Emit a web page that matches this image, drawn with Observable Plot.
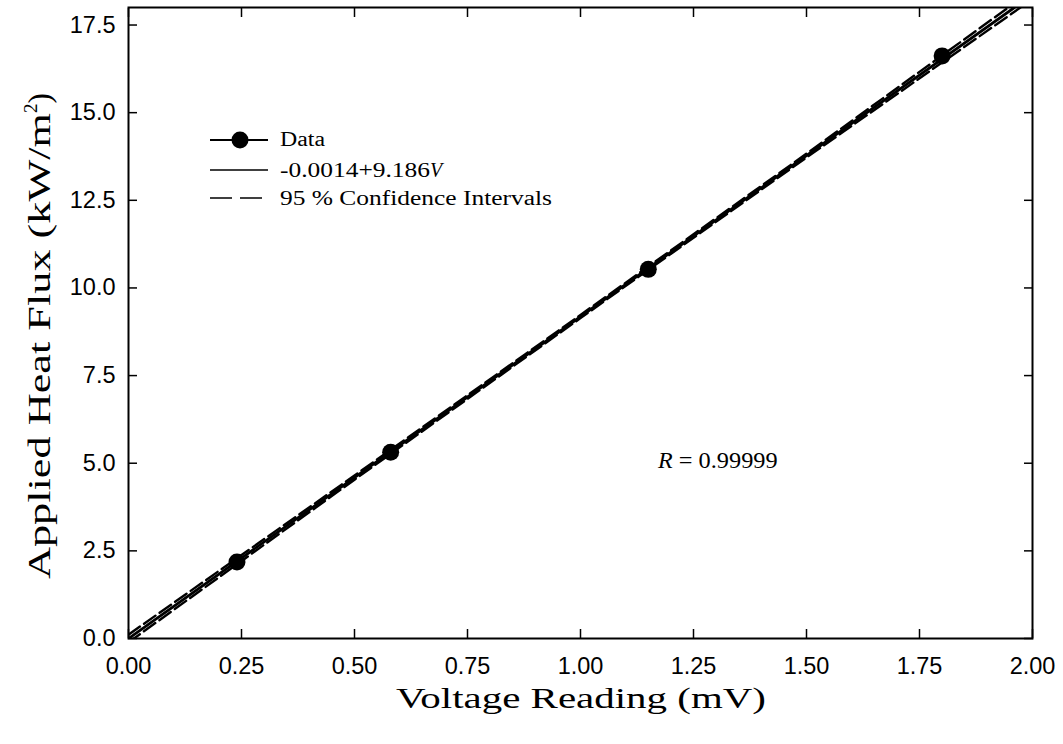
<!DOCTYPE html>
<html><head><meta charset="utf-8">
<script src="https://cdn.jsdelivr.net/npm/d3@7"></script>
<script src="https://cdn.jsdelivr.net/npm/@observablehq/plot@0.6"></script>
<style>body{margin:0;background:#fff} svg{display:block}</style>
</head><body><div id="chart"></div>
<script>
// Data
const voltage = [0.24, 0.58, 1.15, 1.80];
const heatFlux = [2.18, 5.31, 10.53, 16.62];
const fitX = [0, 1.96];
const fitY = [-0.0014, 18.0];
const ciX = [0, 0.5, 1.0, 1.5, 2.0];
const ciUpper = [0.11, 4.65, 9.23, 13.83, 18.50];
const ciLower = [-0.11, 4.53, 9.14, 13.72, 18.24];
const xTicks = [0, 0.25, 0.5, 0.75, 1.0, 1.25, 1.5, 1.75, 2.0];
const yTicks = [0, 2.5, 5, 7.5, 10, 12.5, 15, 17.5];
const xTitle = "Voltage Reading (mV)";
const yTitle = "Applied Heat Flux (kW/m";
const legendLabels = ["Data", "-0.0014+9.186", "95 % Confidence Intervals"];
const rLabel = "0.99999";

const points = voltage.map((v, i) => ({x: v, y: heatFlux[i]}));
const fit = fitX.map((v, i) => ({x: v, y: fitY[i]}));
const upper = ciX.map((v, i) => ({x: v, y: ciUpper[i]}));
const lower = ciX.map((v, i) => ({x: v, y: ciLower[i]}));

const plot = Plot.plot({
  width: 1063,
  height: 744,
  marginLeft: 128,
  marginRight: 31,
  marginTop: 7,
  marginBottom: 106,
  style: {fontFamily: "'Liberation Sans', Arial, sans-serif", fontSize: "23.5px", color: "black", background: "white"},
  x: {domain: [0, 2]},
  y: {domain: [0, 18]},
  marks: [
    Plot.axisX(xTicks, {anchor: "bottom", tickSize: 0, tickPadding: 19, tickFormat: d => d.toFixed(2), label: null}),
    Plot.axisX(xTicks, {anchor: "bottom", tickSize: -9, tickFormat: () => "", label: null, strokeWidth: 1.5}),
    Plot.axisX(xTicks, {anchor: "top", tickSize: -9, tickFormat: () => "", label: null, strokeWidth: 1.5}),
    Plot.axisY(yTicks, {anchor: "left", tickSize: 0, tickPadding: 13, tickFormat: d => d.toFixed(1), label: null}),
    Plot.axisY(yTicks, {anchor: "left", tickSize: -9, tickFormat: () => "", label: null, strokeWidth: 1.5}),
    Plot.axisY(yTicks, {anchor: "right", tickSize: -9, tickFormat: () => "", label: null, strokeWidth: 1.5}),
    Plot.line(upper, {x: "x", y: "y", stroke: "black", strokeWidth: 2.4, strokeDasharray: "14,5", clip: true}),
    Plot.line(lower, {x: "x", y: "y", stroke: "black", strokeWidth: 2.4, strokeDasharray: "14,5", clip: true}),
    Plot.line(fit, {x: "x", y: "y", stroke: "black", strokeWidth: 2.8, clip: true}),
    Plot.dot(points, {x: "x", y: "y", r: 8.5, fill: "black", stroke: "none"}),
    Plot.frame({stroke: "black", strokeWidth: 2})
  ]
});
document.getElementById("chart").appendChild(plot);

const svg = d3.select(plot);
const serif = "'Liberation Serif', 'Times New Roman', serif";

// Axis titles
svg.append("text")
  .attr("x", 581).attr("y", 708)
  .attr("text-anchor", "middle")
  .attr("font-family", serif).attr("font-size", 30)
  .attr("textLength", 370).attr("lengthAdjust", "spacingAndGlyphs")
  .attr("fill", "black")
  .text(xTitle);

const yt = svg.append("text")
  .attr("transform", "translate(50,579) rotate(-90)")
  .attr("text-anchor", "start")
  .attr("font-family", serif).attr("font-size", 31)
  .attr("fill", "black");
yt.append("tspan").attr("textLength", 466).attr("lengthAdjust", "spacingAndGlyphs").text(yTitle);
yt.append("tspan").attr("dy", -13).attr("font-size", 19).text("2");
yt.append("tspan").attr("dy", 13).text(")");

// Legend
const lg = svg.append("g").attr("font-family", serif).attr("font-size", 20).attr("fill", "black").attr("text-anchor", "start");
lg.append("line").attr("x1", 210).attr("x2", 268).attr("y1", 140).attr("y2", 140).attr("stroke", "black").attr("stroke-width", 2);
lg.append("circle").attr("cx", 240).attr("cy", 140).attr("r", 8.5).attr("fill", "black");
lg.append("line").attr("x1", 210).attr("x2", 268).attr("y1", 170).attr("y2", 170).attr("stroke", "black").attr("stroke-width", 1.5);
lg.append("line").attr("x1", 210).attr("x2", 268).attr("y1", 198).attr("y2", 198).attr("stroke", "black").attr("stroke-width", 1.5).attr("stroke-dasharray", "22,8");
lg.append("text").attr("x", 280).attr("y", 146).attr("textLength", 45).attr("lengthAdjust", "spacingAndGlyphs").text(legendLabels[0]);
const t2 = lg.append("text").attr("x", 280).attr("y", 177);
t2.append("tspan").attr("textLength", 150).attr("lengthAdjust", "spacingAndGlyphs").text(legendLabels[1]);
t2.append("tspan").attr("font-style", "italic").text("V");
lg.append("text").attr("x", 280).attr("y", 205).attr("textLength", 272).attr("lengthAdjust", "spacingAndGlyphs").text(legendLabels[2]);

// R annotation
const rt = svg.append("text").attr("x", 658).attr("y", 468).attr("text-anchor", "start")
  .attr("font-family", serif).attr("font-size", 24).attr("fill", "black");
rt.append("tspan").attr("font-style", "italic").text("R");
rt.append("tspan").attr("textLength", 105).attr("lengthAdjust", "spacingAndGlyphs").text(" = " + rLabel);
</script>
</body></html>
